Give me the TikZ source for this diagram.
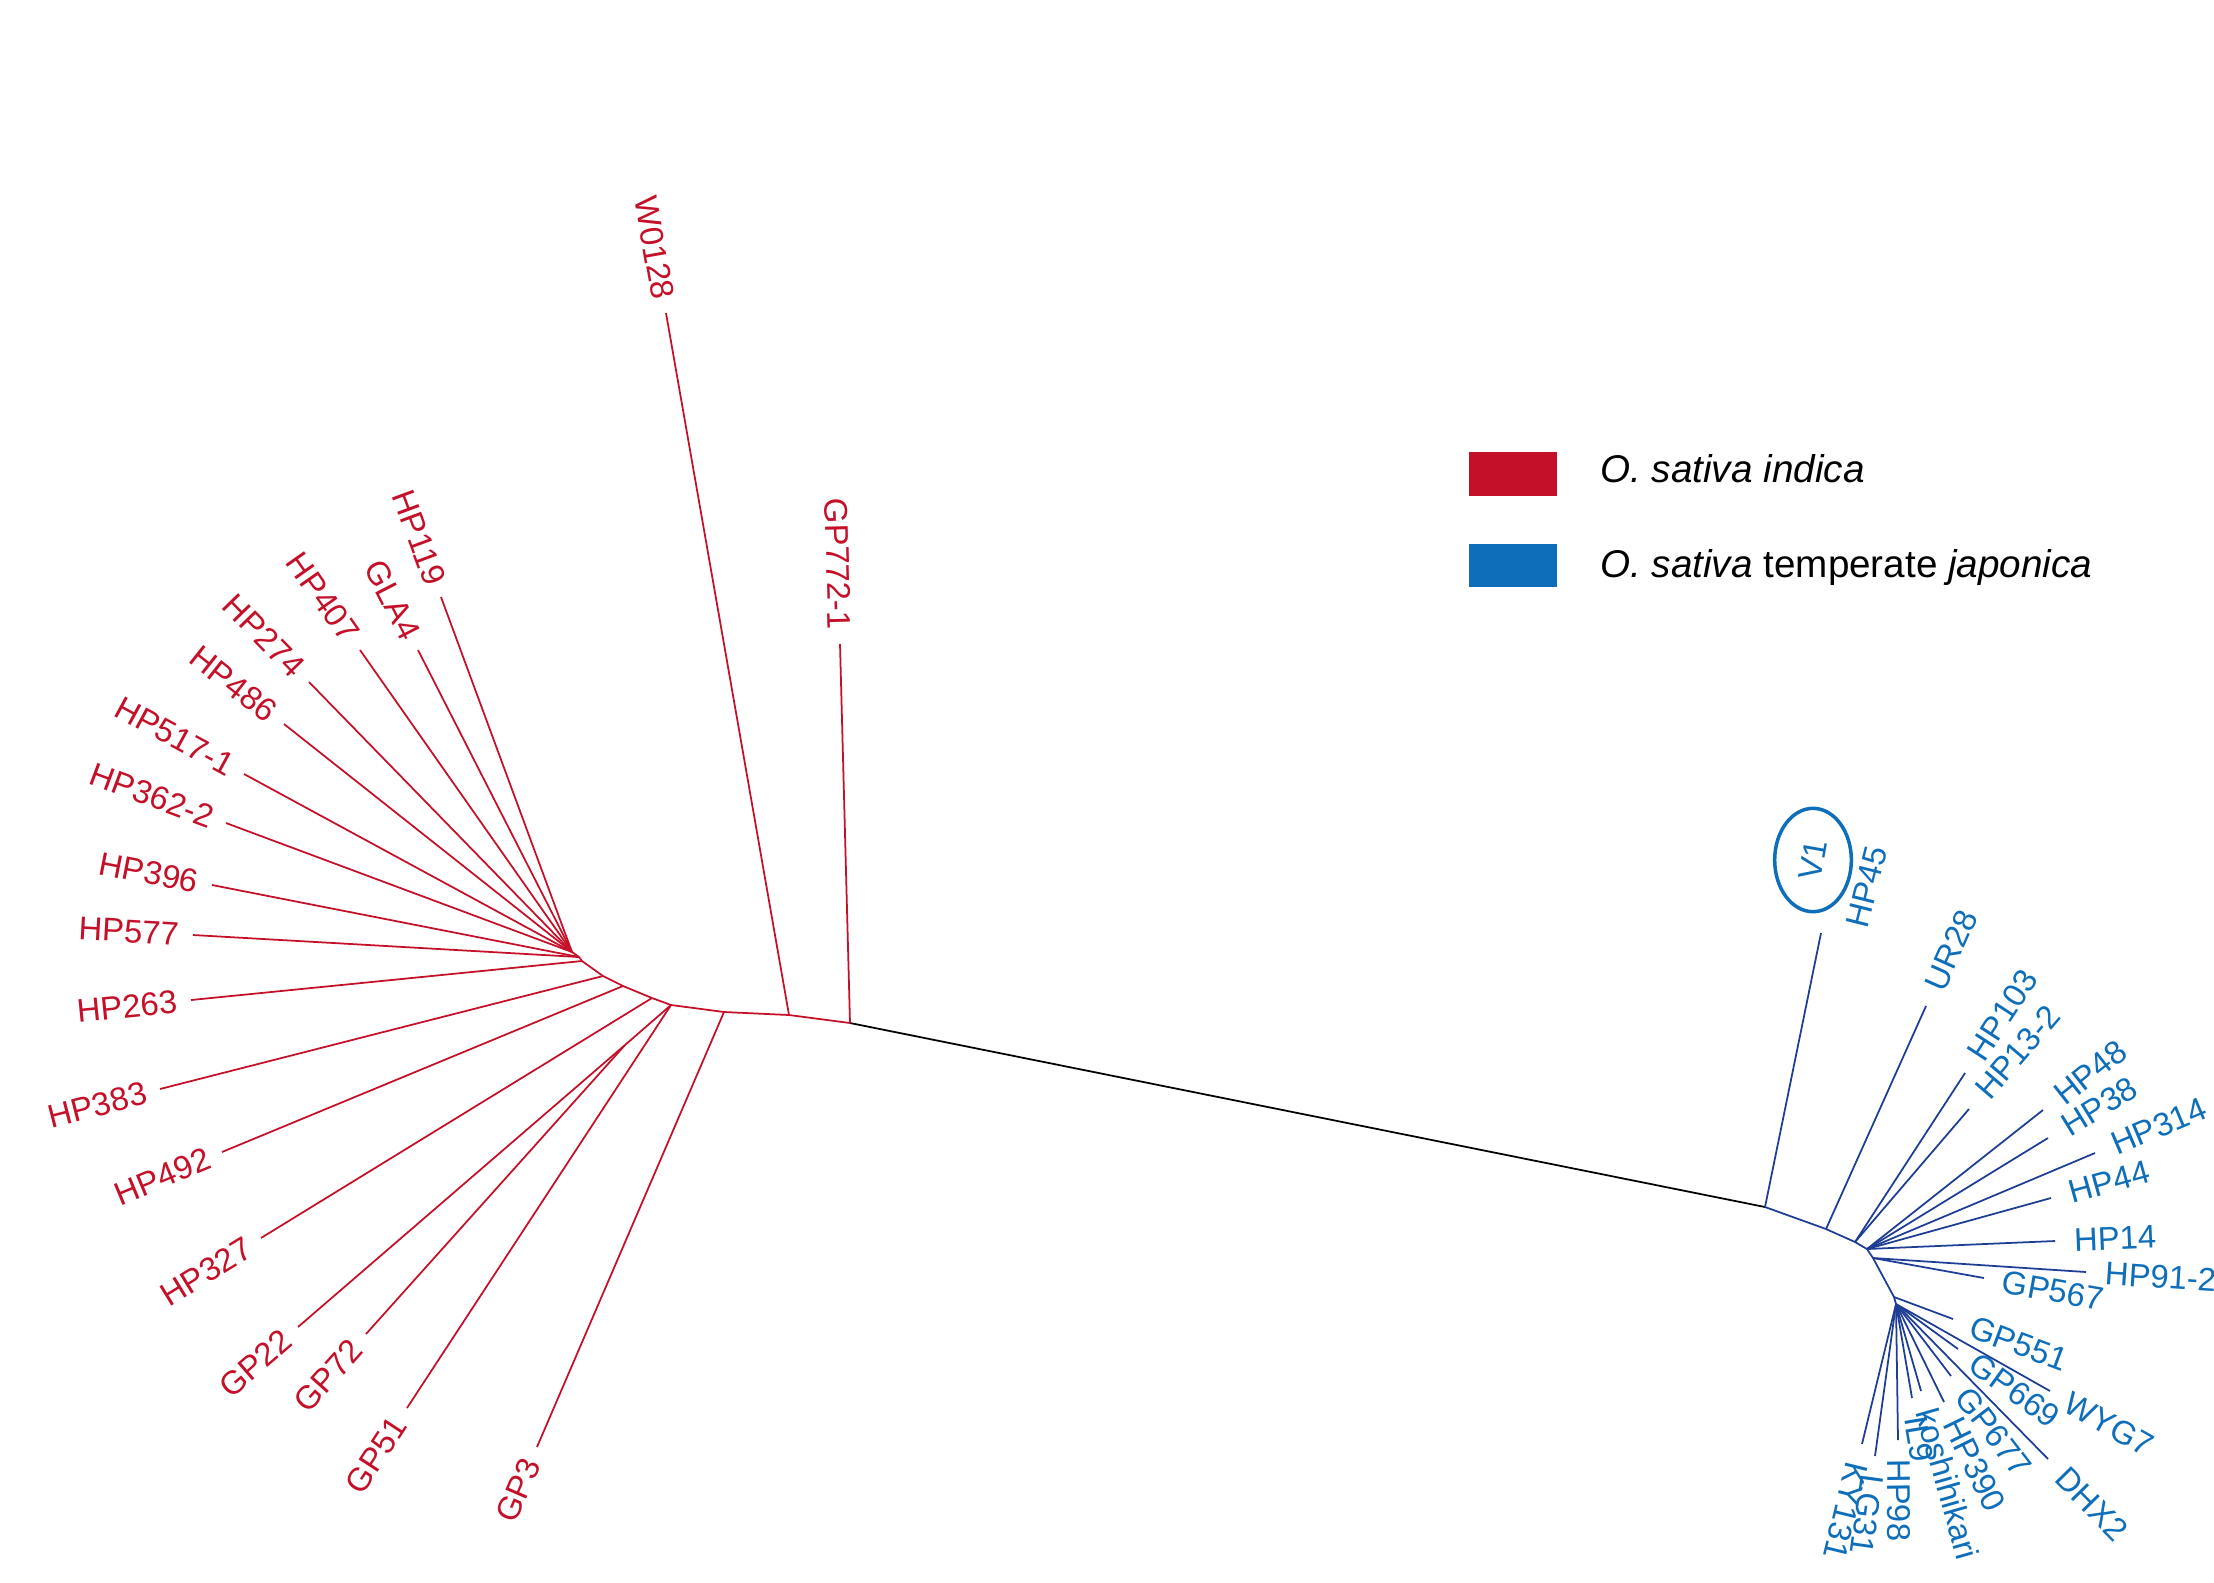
\documentclass[tikz,border=0pt]{standalone}
\usepackage{fontspec}
\usetikzlibrary{shapes.geometric}
\setmainfont{Liberation Sans}
\definecolor{redc}{RGB}{196,16,40}
\definecolor{bluet}{RGB}{14,110,186}
\definecolor{bluel}{RGB}{30,62,150}
\begin{document}
\begin{tikzpicture}[x=0.03cm,y=-0.03cm,
  redline/.style={draw=redc,line width=1.5pt},
  blueline/.style={draw=bluel,line width=1.5pt},
  redlab/.style={text=redc,font=\fontsize{28}{30}\selectfont,pos=1,sloped,anchor=east,inner sep=0.4cm},
  bluelab/.style={text=bluet,font=\fontsize{28}{30}\selectfont,pos=1,sloped,allow upside down,anchor=west,inner sep=0.55cm},
  legtext/.style={font=\fontsize{33}{36}\selectfont,anchor=west,inner sep=0pt}]
\useasboundingbox (0,0) rectangle (2214,1582);
% red internal nodes
\coordinate (r0) at (850,1023);
\coordinate (r1) at (789,1015);
\coordinate (r2) at (724,1012);
\coordinate (r3) at (671,1005);
\coordinate (r4) at (652,998);
\coordinate (r5) at (623,986);
\coordinate (r6) at (603,976);
\coordinate (r7) at (582,961);
\coordinate (r8) at (579,957);
\coordinate (r9) at (572,952);
\coordinate (rs) at (625,1045);
\draw[redline] (r0) -- (r1) -- (r2) -- (r3) -- (r4) -- (r5) -- (r6) -- (r7) -- (r8) -- (r9);
\draw[redline] (r3) -- (rs);
% blue internal nodes
\coordinate (b0) at (1765,1207);
\coordinate (b1) at (1826,1229);
\coordinate (b2) at (1855,1242);
\coordinate (b3) at (1867,1249);
\coordinate (b4) at (1873,1258);
\coordinate (b5) at (1894,1297);
\coordinate (b6) at (1896,1304);
\draw[blueline] (b0) -- (b1) -- (b2) -- (b3) -- (b4) -- (b5) -- (b6);
\draw[black,line width=1.5pt] (r0) -- (b0);
% red leaves
\foreach \n/\x/\y/\h in {HP119/441/597/r9, GLA4/418/650/r9, HP407/360/650/r9, HP274/309/682/r9,
  HP486/284/724/r9, HP517-1/244/774/r9, HP362-2/226/823/r9, HP396/212/885/r8, HP577/193/935/r8,
  HP263/191/1000/r7, HP383/160/1089/r6, HP492/222/1152/r5, HP327/261/1238/r4,
  GP22/298/1327/rs, GP72/366/1334/rs, GP51/407/1408/r3, GP3/537/1447/r2,
  W0128/666/313/r1, GP772-1/840/644/r0}{
  \coordinate (l\n) at (\x,\y);
  \draw[redline] (\h) -- node[redlab] (t\n) {\n} (l\n);
}
% blue leaves
\foreach \n/\x/\y/\h in {UR28/1926/1006/b1, HP103/1965/1073/b2, HP13-2/1969/1109/b2,
  HP48/2043/1110/b3, HP38/2048/1138/b3, HP314/2095/1153/b3, HP44/2051/1198/b3, HP14/2055/1241/b3,
  HP91-2/2086/1272/b4, GP567/1984/1278/b4, GP551/1953/1319/b5,
  GP669/1958/1349/b6, GP677/1951/1376/b6, HP390/1944/1402/b6, koshihikari/1921/1391/b6,
  IL9/1912/1398/b6, HP98/1898/1440/b6, LG31/1875/1456/b6, KY131/1862/1444/b6,
  WYG7/2050/1391/b6, DHX2/2048/1459/b6}{
  \coordinate (l\n) at (\x,\y);
  \draw[blueline] (\h) -- node[bluelab] (t\n) {\n} (l\n);
}
\coordinate (lHP45) at (1821,933);
\draw[blueline] (b0) -- (lHP45);
\node[text=bluet,font=\fontsize{28}{30}\selectfont,rotate=76] (tHP45) at (1867,887) {HP45};
\node[draw=bluet,line width=3pt,ellipse,minimum width=2.3cm,minimum height=3.1cm,inner sep=0pt] (v1e) at (1813,860) {};
\node[text=bluet,font=\fontsize{28}{30}\selectfont,rotate=80] (tV1) at (1813,860) {V1};
% legend
\node[fill=redc,minimum width=2.64cm,minimum height=1.32cm,inner sep=0pt,anchor=north west] (lr) at (1469,452) {};
\node[fill=bluet,minimum width=2.64cm,minimum height=1.29cm,inner sep=0pt,anchor=north west] (lb) at (1469,544) {};
\node[legtext] (ltr) at (1600,469) {\itshape O. sativa indica};
\node[legtext] (ltb) at (1600,567) {\itshape O. sativa\/ \upshape temperate \itshape japonica};
\end{tikzpicture}
\end{document}
